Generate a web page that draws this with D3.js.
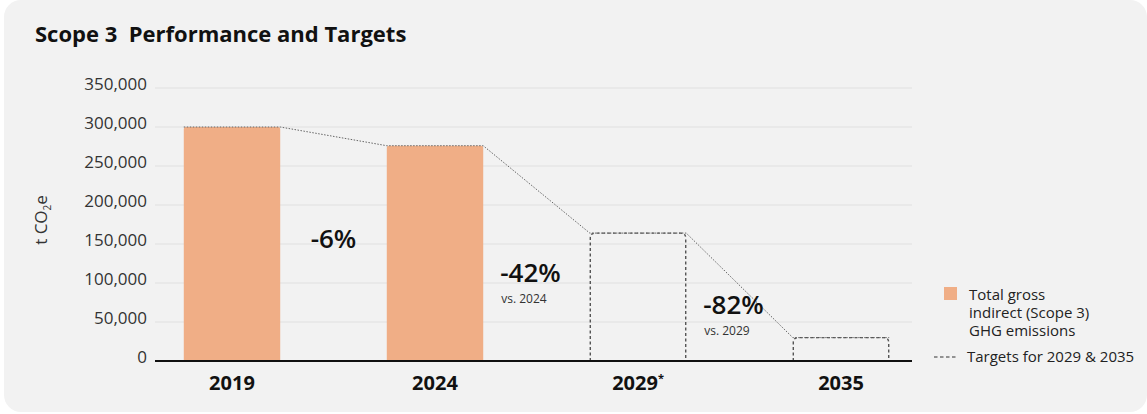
<!DOCTYPE html>
<html>
<head>
<meta charset="utf-8">
<script src="https://cdn.jsdelivr.net/npm/d3@7"></script>
<style>
  body { margin: 0; background: #fff; }
  svg { display: block; font-family: "Open Sans", "Noto Sans", sans-serif; }
</style>
</head>
<body>
<div id="chart"></div>
<script>
// Chart data
const years = ['2019', '2024', '2029*', '2035'];
const actualValues = [300000, 276000, null, null];
const targetValues = [null, null, 164000, 30000];
const changeLabels = ['-6%', '-42%', '-82%'];
const changeNotes = ['', 'vs. 2024', 'vs. 2029'];
const yTicks = [0, 50000, 100000, 150000, 200000, 250000, 300000, 350000];

const width = 1147, height = 414;
const barColor = '#f0ae86';

const svg = d3.select('#chart').append('svg')
  .attr('width', width)
  .attr('height', height);

// Panel background
svg.append('rect')
  .attr('x', 4).attr('y', 0)
  .attr('width', 1143).attr('height', 412)
  .attr('rx', 17)
  .attr('fill', '#f2f2f2');

// Title
svg.append('text')
  .attr('x', 35).attr('y', 42)
  .attr('font-size', 22).attr('font-weight', 700)
  .attr('fill', '#111')
  .attr('xml:space', 'preserve')
  .text('Scope 3  Performance and Targets');

// Scales
const x = d3.scaleBand()
  .domain(years)
  .range([131, 942])
  .paddingInner(0.525)
  .paddingOuter(0.26);

const y = d3.scaleLinear()
  .domain([0, 350000])
  .range([361, 88]);

// Gridlines
svg.append('g')
  .selectAll('line')
  .data(yTicks.filter(d => d > 0))
  .enter()
  .append('line')
  .attr('x1', 155).attr('x2', 912)
  .attr('y1', d => y(d)).attr('y2', d => y(d))
  .attr('stroke', '#e0e0e0')
  .attr('stroke-width', 1.2);

// Y axis labels
const yAxis = d3.axisLeft(y)
  .tickValues(yTicks)
  .tickSize(0)
  .tickPadding(0)
  .tickFormat(d3.format(','));

svg.append('g')
  .attr('transform', 'translate(147,0)')
  .call(yAxis)
  .call(g => g.select('.domain').remove())
  .call(g => g.selectAll('text')
    .attr('font-size', 17)
    .attr('fill', '#333')
    .attr('font-family', '"Open Sans", "Noto Sans", sans-serif')
    .attr('dy', '0.1em'));

// Y axis title
const yTitle = svg.append('text')
  .attr('transform', 'translate(47,220) rotate(-90)')
  .attr('text-anchor', 'middle')
  .attr('font-size', 17)
  .attr('fill', '#333');
yTitle.append('tspan').text('t CO');
yTitle.append('tspan').attr('font-size', 10).attr('dy', 4).text('2');
yTitle.append('tspan').attr('dy', -4).text('e');

// Rounded-top path helper
function topRounded(x0, y0, w, h, r) {
  return `M${x0},${y0 + h} V${y0 + r} Q${x0},${y0} ${x0 + r},${y0} H${x0 + w - r} Q${x0 + w},${y0} ${x0 + w},${y0 + r} V${y0 + h}`;
}

// Actual bars
svg.append('g')
  .selectAll('path')
  .data(years.map((yr, i) => ({ yr, v: actualValues[i] })).filter(d => d.v !== null))
  .enter()
  .append('path')
  .attr('d', d => topRounded(x(d.yr), y(d.v), x.bandwidth(), y(0) - y(d.v), 2) + ' Z')
  .attr('fill', barColor);

// Target boxes (dashed)
svg.append('g')
  .selectAll('path')
  .data(years.map((yr, i) => ({ yr, v: targetValues[i] })).filter(d => d.v !== null))
  .enter()
  .append('path')
  .attr('d', d => topRounded(x(d.yr) + 0.5, y(d.v), x.bandwidth() - 1, y(0) - y(d.v), 5))
  .attr('fill', 'none')
  .attr('stroke', '#555')
  .attr('stroke-width', 1.4)
  .attr('stroke-dasharray', '3,2.5');

// Dotted connector across bar tops
const allValues = years.map((yr, i) => actualValues[i] !== null ? actualValues[i] : targetValues[i]);
const connectorPts = [];
years.forEach((yr, i) => {
  connectorPts.push([x(yr), y(allValues[i])]);
  connectorPts.push([x(yr) + x.bandwidth(), y(allValues[i])]);
});
svg.append('path')
  .attr('d', d3.line()(connectorPts))
  .attr('fill', 'none')
  .attr('stroke', '#666')
  .attr('stroke-width', 1)
  .attr('stroke-dasharray', '1.5,1.5');

// X axis line
svg.append('line')
  .attr('x1', 155).attr('x2', 912)
  .attr('y1', y(0)).attr('y2', y(0))
  .attr('stroke', '#111')
  .attr('stroke-width', 2.2);

// X labels
svg.append('g')
  .selectAll('text')
  .data(years)
  .enter()
  .append('text')
  .attr('x', d => x(d) + x.bandwidth() / 2)
  .attr('y', 390)
  .attr('text-anchor', 'middle')
  .attr('font-size', 20)
  .attr('font-weight', 700)
  .attr('fill', '#111')
  .each(function(d) {
    const t = d3.select(this);
    if (d.endsWith('*')) {
      t.append('tspan').text(d.slice(0, -1));
      t.append('tspan').attr('font-size', 11).attr('dy', -8).text('*');
    } else {
      t.text(d);
    }
  });

// Change labels between bars
const changeY = [248, 282, 314];
changeLabels.forEach((lbl, i) => {
  const gapLeft = x(years[i]) + x.bandwidth();
  const lx = i === 0 ? (gapLeft + x(years[i + 1])) / 2 : gapLeft + 17;
  svg.append('text')
    .attr('x', lx)
    .attr('y', changeY[i])
    .attr('text-anchor', i === 0 ? 'middle' : 'start')
    .attr('font-size', 26)
    .attr('font-weight', 600)
    .attr('fill', '#111')
    .text(lbl);
  if (changeNotes[i]) {
    svg.append('text')
      .attr('x', lx + 1)
      .attr('y', changeY[i] + 20.5)
      .attr('font-size', 12)
      .attr('fill', '#333')
      .text(changeNotes[i]);
  }
});

// Legend
const legend = svg.append('g');
legend.append('rect')
  .attr('x', 944).attr('y', 287)
  .attr('width', 13).attr('height', 13)
  .attr('fill', barColor);
['Total gross', 'indirect (Scope 3)', 'GHG emissions'].forEach((t, i) => {
  legend.append('text')
    .attr('x', 969).attr('y', 300 + i * 18)
    .attr('font-size', 15)
    .attr('fill', '#222')
    .text(t);
});
legend.append('line')
  .attr('x1', 934).attr('x2', 957)
  .attr('y1', 357).attr('y2', 357)
  .attr('stroke', '#333')
  .attr('stroke-width', 1.2)
  .attr('stroke-dasharray', '3.5,2.5');
legend.append('text')
  .attr('x', 967).attr('y', 362)
  .attr('font-size', 15)
  .attr('fill', '#222')
  .text('Targets for 2029 & 2035');
</script>
</body>
</html>
